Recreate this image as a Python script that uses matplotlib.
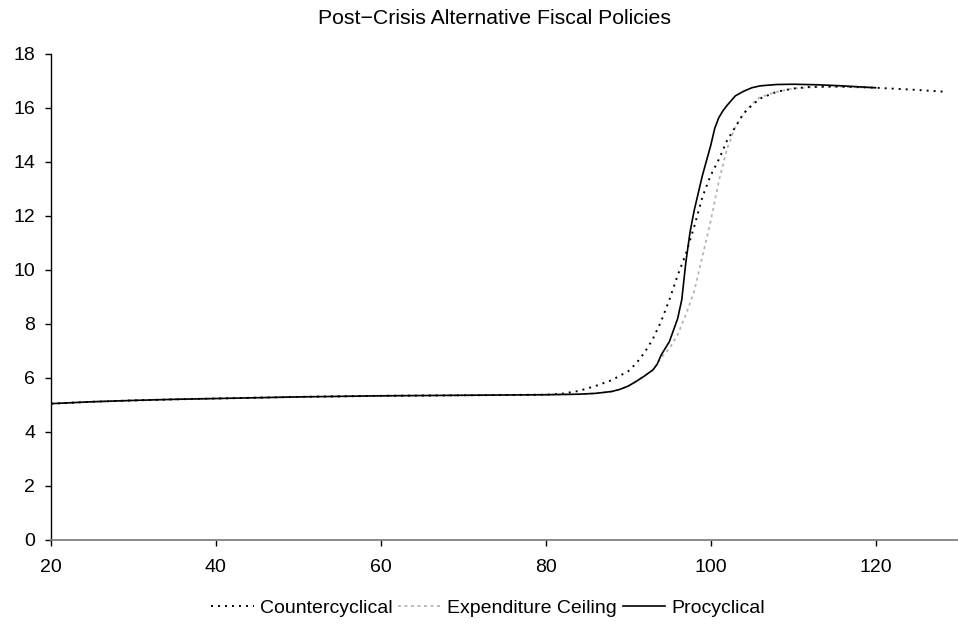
import matplotlib
matplotlib.use("Agg")
import matplotlib.pyplot as plt
from matplotlib.lines import Line2D

plt.rcParams['font.family'] = ['Liberation Sans', 'DejaVu Sans']

title = "Post\u2212Crisis Alternative Fiscal Policies"

# shared low segment
x_low = [20, 25, 30, 35, 40, 45, 50, 55, 60, 65, 70, 75, 80]
y_low = [5.05, 5.12, 5.17, 5.21, 5.24, 5.27, 5.30, 5.32, 5.34, 5.35, 5.36, 5.37, 5.38]

counter_x = x_low + [82, 84, 86, 88, 90, 91, 92, 93, 94, 95, 96, 97, 98, 99, 100,
                     101, 102, 103, 104, 105, 106, 108, 110, 112, 115, 120, 125, 128.5]
counter_y = y_low + [5.42, 5.52, 5.70, 5.92, 6.25, 6.55, 6.95, 7.45, 8.1, 8.9, 9.8, 10.6,
                     11.6, 12.7, 13.5, 14.1, 14.8, 15.3, 15.8, 16.1, 16.35, 16.6, 16.72,
                     16.78, 16.8, 16.75, 16.67, 16.6]

ceiling_x = x_low + [82, 84, 86, 88, 89, 90, 91, 92, 93, 94, 95, 96, 97, 98, 99, 100,
                     101, 102, 103, 104, 105, 106, 108, 110, 113, 116, 120]
ceiling_y = y_low + [5.39, 5.40, 5.43, 5.50, 5.58, 5.70, 5.88, 6.08, 6.30, 6.75, 7.10,
                     7.60, 8.35, 9.20, 10.50, 11.80, 13.30, 14.50, 15.30, 15.80, 16.15,
                     16.40, 16.60, 16.72, 16.78, 16.78, 16.75]

pro_x = x_low + [82, 84, 86, 88, 89, 90, 91, 92, 93, 93.5, 94, 95, 96, 96.5, 97, 97.5,
                 98, 99, 100, 100.5, 101, 101.5, 102, 103, 104, 105, 106, 108, 110, 113,
                 116, 120]
pro_y = y_low + [5.39, 5.40, 5.43, 5.50, 5.58, 5.70, 5.88, 6.08, 6.30, 6.50, 6.85, 7.35,
                 8.20, 8.90, 10.30, 11.40, 12.20, 13.50, 14.60, 15.25, 15.65, 15.90, 16.10,
                 16.45, 16.62, 16.75, 16.82, 16.87, 16.88, 16.86, 16.82, 16.75]

labels = ["Countercyclical", "Expenditure Ceiling", "Procyclical"]

fig = plt.figure(figsize=(9.58, 6.3), dpi=100)
ax = fig.add_axes([51/958, 90/630, 1 - 51/958, (540-54)/630])

dot_black = (0, (1.0, 2.6))
dot_gray = (0, (1.6, 2.0))

ax.plot(ceiling_x, ceiling_y, color='#b4b4b4', lw=1.3, linestyle=dot_gray)
ax.plot(counter_x, counter_y, color='black', lw=1.4, linestyle=dot_black)
ax.plot(pro_x, pro_y, color='black', lw=1.2, linestyle='-')

ax.set_xlim(20, 130)
ax.set_ylim(0, 18)
ax.set_xticks([20, 40, 60, 80, 100, 120])
ax.set_yticks(range(0, 19, 2))
ax.spines['top'].set_visible(False)
ax.spines['right'].set_visible(False)
ax.spines['left'].set_color('black')
ax.spines['left'].set_linewidth(1.0)
ax.spines['bottom'].set_color('#808080')
ax.spines['bottom'].set_linewidth(1.3)
ax.tick_params(axis='both', direction='out', length=4.5, width=1.0, colors='black',
               labelsize=14, pad=6)
ax.tick_params(axis='y', pad=7)
ax.tick_params(axis='x', pad=9)

fig.text(494/958, 1 - 18/630, title, ha='center', va='center', fontsize=15.3)

handles = [
    Line2D([], [], color='black', lw=1.4, linestyle=dot_black),
    Line2D([], [], color='#b4b4b4', lw=1.3, linestyle=dot_gray),
    Line2D([], [], color='black', lw=1.2, linestyle='-'),
]
fig.legend(handles, labels, loc='center', bbox_to_anchor=(488/958, 1 - 608/630),
           ncol=3, frameon=False, fontsize=14, handlelength=2.2, handletextpad=0.3,
           columnspacing=0.3, borderpad=0)

fig.savefig("out.png", dpi=100)
